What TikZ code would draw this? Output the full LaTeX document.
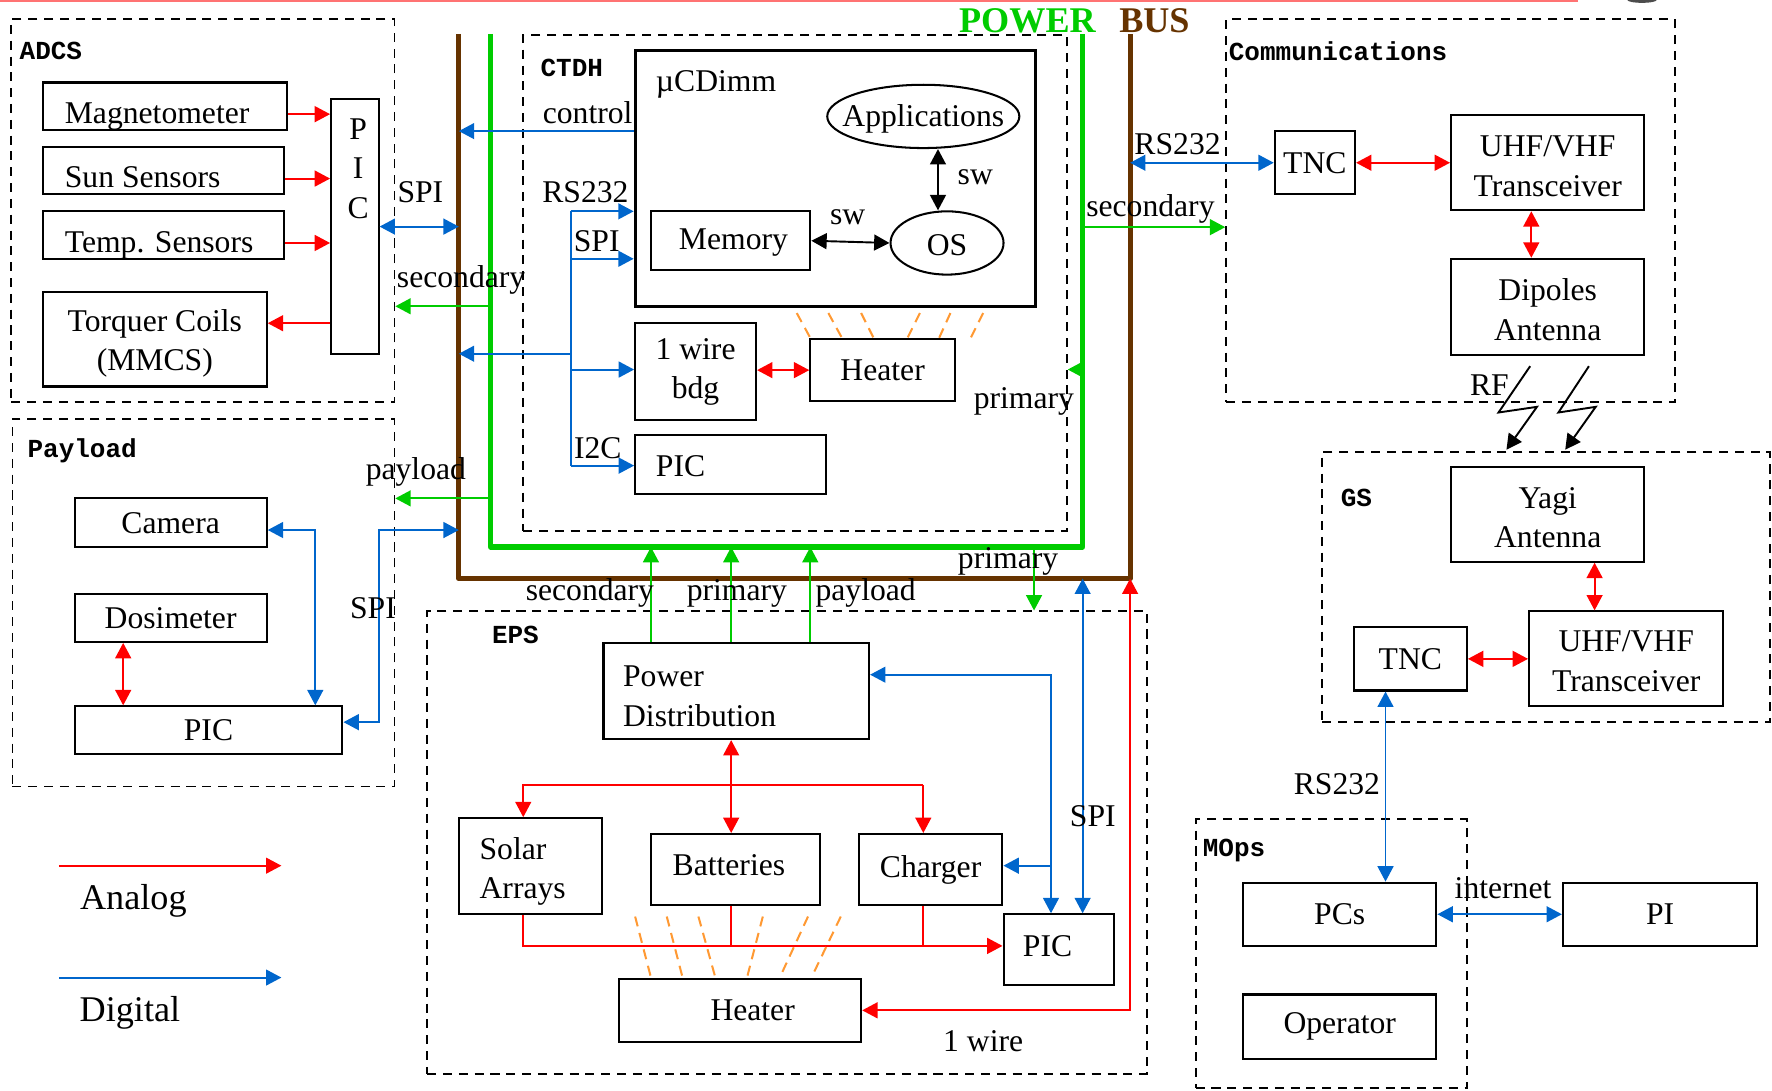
\documentclass[tikz,border=0pt]{standalone}
\usepackage{fontspec}
\setmainfont{Liberation Serif}
\newfontfamily\grpfont{Liberation Mono}
\usepackage{xcolor}
\usetikzlibrary{arrows.meta}
\usetikzlibrary{calc}
\usetikzlibrary{shapes.geometric}

\definecolor{anared}{RGB}{255,0,0}
\definecolor{digblue}{RGB}{0,102,204}
\definecolor{pwrgreen}{RGB}{0,204,0}
\definecolor{busbrown}{RGB}{102,51,0}
\definecolor{heatorange}{RGB}{255,153,51}

\tikzset{
  blk/.style 2 args={draw, line width=0.9pt, minimum width=#1*0.5pt, minimum height=#2*0.5pt, inner sep=0pt, align=center},
  grp/.style 2 args={draw, line width=0.8pt, dash pattern=on 4pt off 3pt, minimum width=#1*0.5pt, minimum height=#2*0.5pt, inner sep=0pt},
  oval/.style 2 args={draw, ellipse, line width=0.9pt, minimum width=#1*0.5pt, minimum height=#2*0.5pt, inner sep=0pt},
  grplbl/.style={anchor=west, inner sep=0pt, font={\grpfont\bfseries\fontsize{11.5}{13}\selectfont}},
  lbl/.style={inner sep=0pt},
  ana/.style={draw=anared, line width=0.85pt},
  dig/.style={draw=digblue, line width=0.85pt},
  pwr/.style={draw=pwrgreen, line width=0.85pt},
  sw/.style={draw=black, line width=0.85pt},
  heat/.style={draw=heatorange, line width=0.9pt, dash pattern=on 4.5pt off 3pt},
  bus/.style={line width=2.3pt, line join=round}
}

\begin{document}
\begin{tikzpicture}[x=0.5pt,y=0.5pt,yscale=-1,xscale=1,>={Triangle[length=6.8pt,width=7pt]},font=\fontsize{14}{17.5}\selectfont]
\useasboundingbox (0,0) rectangle (1568,965);

%Straight Lines: strip at the top edge
\draw [anared, opacity=0.55, line width=1.2pt] (0,1) -- (1396,1) ;
\fill [black!70] (1453,0) ellipse [x radius=13, y radius=2.5] ;

%Power bus
\coordinate (bbl) at (406,30);
\coordinate (bbll) at (406,512);
\coordinate (bblr) at (1000,512);
\coordinate (bbr) at (1000,30);
\coordinate (gbl) at (434,30);
\coordinate (gbll) at (434,484);
\coordinate (gblr) at (958,484);
\coordinate (gbr) at (958,30);
\draw [bus, busbrown] (bbl) -- (bbll) -- (bblr) -- (bbr) ;
\draw [bus, pwrgreen] (gbl) -- (gbll) -- (gblr) -- (gbr) ;
% Text Node
\node [lbl, anchor=east, text=pwrgreen, font=\fontsize{16}{19}\selectfont\bfseries] (pwrlbl) at (970,18) {POWER};
\node [lbl, anchor=west, text=busbrown, font=\fontsize{16}{19}\selectfont\bfseries] (buslbl) at (990,18) {BUS};

%Shape: ADCS
\node [grp={339}{339}] (adcs) at (179.5,186.5) {};
\node [grplbl] (adcslbl) at (17,45) {ADCS};
\node [blk={216}{42}] (mag) at (146,94) {};
\node [blk={213}{42}] (sun) at (144.5,151) {};
\node [blk={213}{42}] (temp) at (144.5,208) {};
\node [blk={198}{84}] (torq) at (137,300) {};
\node [blk={42}{225}] (adcspic) at (314,200.5) {};
% Text Node
\node [lbl, anchor=base west] (magtxt) at (57,109) {Magnetometer};
\node [lbl, anchor=base west] (suntxt) at (57,166) {Sun Sensors};
\node [lbl, anchor=base west] (temptxt) at (57,223) {Temp. Sensors};
\node [lbl, align=center] (torqtxt) at (137,304) {Torquer Coils\\(MMCS)};
\node [lbl, align=center] (adcspictxt) at (317,149) {P\\I\\C};
%Straight Lines
\foreach \s in {mag,sun,temp} {
  \coordinate (\s-o) at ($(\s.east)+(0,7)$);
  \draw [ana, ->] (\s-o) -- (\s-o -| adcspic.west) ;
}
\coordinate (torqin) at ($(torq.east)+(0,-14)$);
\draw [ana, ->] (torqin -| adcspic.west) -- (torqin) ;
\draw [dig, <->] (adcspic.east) -- (adcspic.east -| bbl) ;
\coordinate (adcssec) at (434,271);
\draw [pwr, ->] (adcssec) -- (adcssec -| adcs.east) ;
% Text Node
\node [lbl] (adcsspi) at (372,170) {SPI};
\node [lbl] (adcsseclbl) at (408,248) {secondary};

%Shape: CTDH
\node [grp={481}{439}] (ctdh) at (703.5,250.5) {};
\node [grplbl] (ctdhlbl) at (478,60) {CTDH};
\node [blk={354}{226}, line width=1.3pt] (ucd) at (739,158) {};
\node [lbl, anchor=base west] (ucdtxt) at (580,81) {µCDimm};
\node [oval={170}{56}] (apps) at (817,103) {};
\node [lbl] (appstxt) at (817,105) {Applications};
\node [oval={100}{56}] (os) at (838,215) {};
\node [lbl] (ostxt) at (838,217) {OS};
\node [blk={141}{52}] (mem) at (646.5,213) {};
\node [lbl] (memtxt) at (649,215) {Memory};
\node [blk={107}{86}] (wire) at (615.5,329) {1 wire\\bdg};
\node [blk={128}{55}] (ctheat) at (781,327.5) {Heater};
\node [blk={169}{52}] (ctpic) at (646.5,411) {};
\node [lbl, anchor=base west] (ctpictxt) at (580,422) {PIC};
%Straight Lines
\coordinate (swv) at (830,0);
\draw [sw, <->] (swv |- apps.south) -- (swv |- os.north) ;
\draw [sw, <->] (mem.east) -- (os.west) ;
\draw [ana, <->] (ctheat.west -| wire.east) -- (ctheat.west) ;
\coordinate (ctrl) at ($(ucd.west)+(0,-42)$);
\draw [dig, ->] (ctrl) -- (ctrl -| bbl) ;
\coordinate (tr1) at (505,187);
\coordinate (tr2) at (505,229);
\coordinate (tr3) at (505,313);
\coordinate (tr4) at (505,327);
\coordinate (tr5) at (505,412);
\draw [dig] (tr1) -- (tr5) ;
\draw [dig, ->] (tr1) -- (tr1 -| ucd.west) ;
\draw [dig, ->] (tr2) -- (tr2 -| ucd.west) ;
\draw [dig, ->] (tr3) -- (tr3 -| bbl) ;
\draw [dig, ->] (tr4) -- (tr4 -| wire.west) ;
\draw [dig, ->] (tr5) -- (tr5 -| ctpic.west) ;
\coordinate (ctprim) at (958,327);
\draw [pwr, ->] (ctprim) -- (ctprim -| ctdh.east) ;
\foreach \a/\b in {705/717,733/745,762/773,814/803,841/831,870/859}
  \draw [heat] (\a,277) -- (\b,299) ;
% Text Node
\node [lbl] (ctrllbl) at (520,100) {control};
\node [lbl] (ctrs) at (518,170) {RS232};
\node [lbl] (ctspi) at (528,213) {SPI};
\node [lbl] (cti2c) at (529,397) {I2C};
\node [lbl] (sw1) at (863,157) {sw};
\node [lbl] (sw2) at (750,192) {sw};
\node [lbl] (ctprimlbl) at (906,355) {primary};

%Shape: Communications
\node [grp={397}{339}] (comm) at (1283.5,186.5) {};
\node [grplbl] (commlbl) at (1087,45) {Communications};
\node [blk={71}{56}] (tnc) at (1163.5,144) {TNC};
\node [blk={171}{84}] (uhf) at (1369.5,144) {};
\node [lbl, align=center] (uhftxt) at (1369.5,147) {UHF/VHF\\Transceiver};
\node [blk={171}{85}] (dip) at (1369.5,271.5) {};
\node [lbl, align=center] (diptxt) at (1369.5,274) {Dipoles\\Antenna};
%Straight Lines
\draw [ana, <->] (tnc.east) -- (uhf.west) ;
\coordinate (commv) at (1355,0);
\draw [ana, <->] (commv |- uhf.south) -- (commv |- dip.north) ;
\draw [dig, <->] (tnc.west -| bbr) -- (tnc.west) ;
\coordinate (commsec) at (958,201);
\draw [pwr, ->] (commsec) -- (commsec -| comm.west) ;
\draw [sw, ->] (1354,324) -- (1326,365) -- (1360,360) -- (1333,398) ;
\draw [sw, ->] (1406,324) -- (1379,365) -- (1412,360) -- (1385,398) ;
% Text Node
\node [lbl] (commrs) at (1042,128) {RS232};
\node [lbl] (commseclbl) at (1018,185) {secondary};
\node [lbl] (rflbl) at (1318,341) {RF};

%Shape: GS
\node [grp={396}{239}] (gs) at (1368,519.5) {};
\node [grplbl] (gslbl) at (1186,441) {GS};
\node [blk={171}{84}] (yagi) at (1369.5,455) {};
\node [lbl, align=center] (yagitxt) at (1369.5,458) {Yagi\\Antenna};
\node [blk={172}{84}] (gsuhf) at (1439,583) {};
\node [lbl, align=center] (gsuhftxt) at (1439,585) {UHF/VHF\\Transceiver};
\node [blk={100}{56}] (gstnc) at (1248,583) {TNC};
%Straight Lines
\coordinate (gsv) at (1411,0);
\draw [ana, <->] (gsv |- yagi.south) -- (gsv |- gsuhf.north) ;
\draw [ana, <->] (gstnc.east) -- (gsuhf.west) ;

%Shape: MOps
\node [grp={240}{238}] (mops) at (1178,844) {};
\node [grplbl] (mopslbl) at (1064,753) {MOps};
\node [blk={171}{56}] (pcs) at (1185.5,809) {PCs};
\node [blk={171}{57}] (oper) at (1185.5,908.5) {Operator};
\node [blk={172}{56}] (pi) at (1469,809) {PI};
%Straight Lines
\coordinate (gsrs) at (1226,0);
\draw [dig, <->] (gsrs |- gstnc.south) -- (gsrs |- pcs.north) ;
\draw [dig, <->] (pcs.east) -- (pi.west) ;
% Text Node
\node [lbl] (gsrslbl) at (1183,694) {RS232};
\node [lbl] (netlbl) at (1330,786) {internet};

%Shape: Payload
\node [grp={338}{325}] (pay) at (180,533.5) {};
\node [grplbl] (paylbl) at (24,399) {Payload};
\node [blk={170}{43}] (cam) at (151,462.5) {Camera};
\node [blk={170}{42}] (dos) at (151,547) {Dosimeter};
\node [blk={237}{42}] (plpic) at (184.5,646) {PIC};
%Straight Lines
\coordinate (camo) at ($(cam.east)+(0,6.5)$);
\coordinate (plpicin) at ($(plpic.north)+(94.5,0)$);
\draw [dig, <->] (camo) -| (plpicin) ;
\coordinate (dosv) at (109,0);
\draw [ana, <->] (dosv |- dos.south) -- (dosv |- plpic.north) ;
\coordinate (plpico) at ($(plpic.east)+(0,-7)$);
\coordinate (plspi) at (335,469);
\draw [dig, <->] (plpico) -| (plspi) -- (plspi -| bbl) ;
\coordinate (plpwr) at (434,441);
\draw [pwr, ->] (plpwr) -- (plpwr -| pay.east) ;
% Text Node
\node [lbl] (plpwrlbl) at (368,418) {payload};
\node [lbl] (plspilbl) at (330,538) {SPI};

%Shape: EPS
\node [grp={637}{409}] (eps) at (696.5,745.5) {};
\node [grplbl] (epslbl) at (435,562) {EPS};
\node [blk={235}{85}] (pd) at (651.5,611.5) {};
\node [lbl, anchor=west, align=left] (pdtxt) at (551,616) {Power\\Distribution};
\node [blk={127}{85}] (sol) at (469.5,766.5) {};
\node [lbl, anchor=west, align=left] (soltxt) at (424,771) {Solar\\Arrays};
\node [blk={150}{63}] (bat) at (651,769.5) {};
\node [lbl] (battxt) at (645,766) {Batteries};
\node [blk={127}{63}] (chg) at (823.5,769.5) {Charger};
\node [blk={98}{63}] (epspic) at (937,840.5) {};
\node [lbl] (epspictxt) at (927,837) {PIC};
\node [blk={214}{56}] (eheat) at (655,894) {};
\node [lbl] (eheattxt) at (666,894) {Heater};
%Straight Lines
\foreach \x in {576,647,717} {
  \coordinate (pdup) at (\x,0);
  \draw [pwr, ->] (pdup |- pd.north) -- (pdup |- gbll) ;
}
\coordinate (epsdn) at (915,0);
\draw [pwr, ->] (epsdn |- gbll) -- (epsdn |- eps.north) ;
\coordinate (epsspi) at (958,0);
\draw [dig, <->] (epsspi |- epspic.north) -- (epsspi |- bbll) ;
\draw [ana, <->] (eheat.east) -| (bblr) ;
\coordinate (pdspi) at (930,597);
\draw [dig, <->] (pdspi -| pd.east) -- (pdspi) -- (pdspi |- epspic.north) ;
\coordinate (chgspi) at (930,766);
\draw [dig, ->] (chgspi) -- (chgspi -| chg.east) ;
\coordinate (pdbat) at (647,0);
\draw [ana, <->] (pdbat |- pd.south) -- (pdbat |- bat.north) ;
\coordinate (rt1) at (463,695);
\coordinate (rt2) at (817,695);
\draw [ana, ->] (rt2) -- (rt1) -- (rt1 |- sol.north) ;
\draw [ana, ->] (rt2) -- (rt2 |- chg.north) ;
\coordinate (rb1) at (463,837);
\coordinate (rb2) at (647,837);
\coordinate (rb3) at (817,837);
\draw [ana, ->] (rb1 |- sol.south) -- (rb1) -- (rb1 -| epspic.west) ;
\draw [ana] (rb2) -- (rb2 |- bat.south) ;
\draw [ana] (rb3) -- (rb3 |- chg.south) ;
\foreach \a/\b in {562/576,590/604,618/633,675/661,715/690,744/718}
  \draw [heat] (\a,811) -- (\b,865) ;
% Text Node
\node [lbl] (pdsec) at (522,525) {secondary};
\node [lbl] (pdprim) at (652,525) {primary};
\node [lbl] (pdpay) at (766,525) {payload};
\node [lbl] (epsprim) at (892,497) {primary};
\node [lbl] (epsspilbl) at (967,722) {SPI};
\node [lbl] (wirelbl) at (870,921) {1 wire};

%Legend
\coordinate (anal) at (52,766);
\coordinate (anar) at (249,766);
\coordinate (digl) at (52,865);
\coordinate (digr) at (249,865);
\draw [ana, ->] (anal) -- (anar) ;
\draw [dig, ->] (digl) -- (digr) ;
% Text Node
\node [lbl, font=\fontsize{16}{19}\selectfont] (analbl) at (118,797) {Analog};
\node [lbl, font=\fontsize{16}{19}\selectfont] (diglbl) at (115,896) {Digital};

\end{tikzpicture}
\end{document}
